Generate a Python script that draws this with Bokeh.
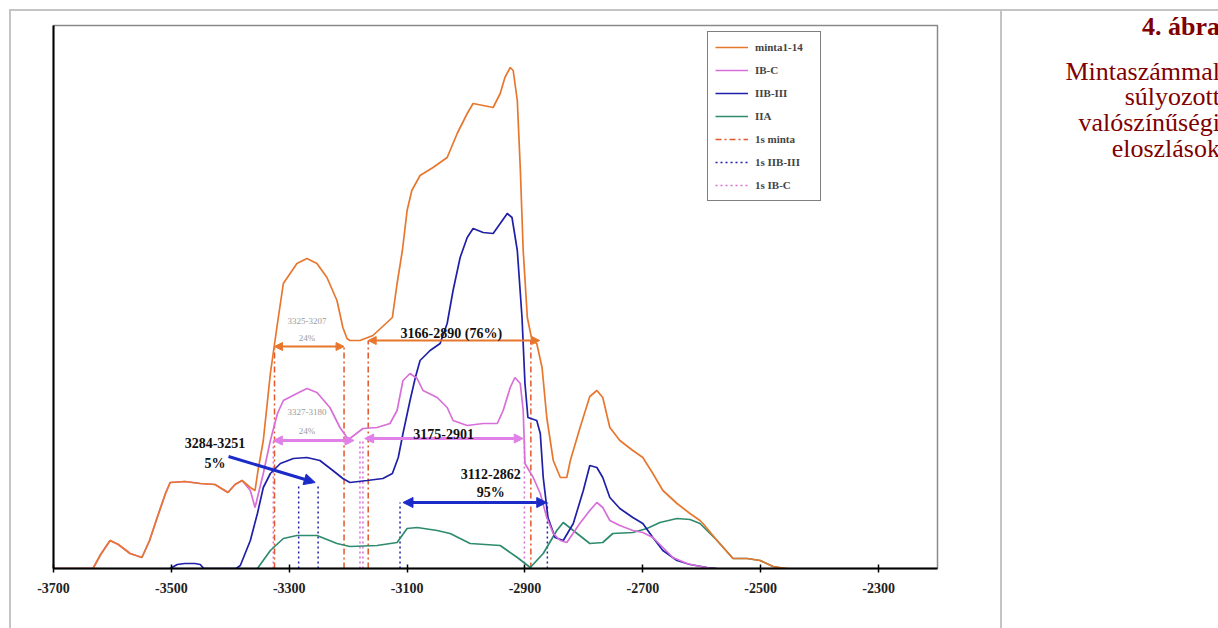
from bokeh.plotting import figure
from bokeh.layouts import row
from bokeh.models import (Range1d, FixedTicker, Legend, LegendItem, Arrow, NormalHead,
                          Label, Div)
from bokeh.embed import file_html
from bokeh.resources import INLINE

# ---------------- data ----------------
tick_values = [-3700, -3500, -3300, -3100, -2900, -2700, -2500, -2300]
tick_labels = ["-3700", "-3500", "-3300", "-3100", "-2900", "-2700", "-2500", "-2300"]

minta_x = [-3700, -3633, -3620, -3604, -3590, -3570, -3550, -3537, -3524, -3510, -3502, -3477,
           -3451, -3426, -3404, -3392, -3380, -3366,
           -3358, -3353, -3344, -3332, -3320, -3310, -3287, -3270, -3253, -3236, -3219, -3209,
           -3202, -3197, -3180, -3158, -3125, -3117, -3108, -3100, -3092, -3078, -3056, -3032,
           -3015, -2998, -2988, -2971, -2954, -2942, -2934, -2925, -2920, -2913, -2908, -2903,
           -2896, -2888, -2880, -2871, -2863, -2852, -2840, -2829, -2823, -2807, -2790, -2778,
           -2768, -2756, -2739, -2717, -2700, -2683, -2666, -2642, -2620, -2603, -2598, -2574,
           -2547, -2523, -2501, -2479, -2455]
minta_y = [0, 0, 14, 28, 24, 15, 11, 28, 51, 75, 86, 87,
           85, 84, 76, 84, 88, 81,
           78, 98, 128, 195, 245, 285, 305, 310, 305, 291, 268, 241,
           230, 228, 228, 233, 251, 285, 318, 358, 378, 393, 401, 411,
           435, 455, 465, 463, 461, 475, 491, 501, 498, 468, 401, 318,
           251, 228, 225, 201, 151, 108, 91, 91, 108, 140, 172, 178,
           171, 141, 128, 118, 111, 95, 78, 65, 55, 48, 45, 28,
           10, 10, 8, 2, 0]

ibc_x = [-3700, -3633, -3620, -3604, -3590, -3570, -3550, -3537, -3524, -3510, -3502, -3477,
         -3451, -3426, -3404, -3392, -3380, -3366,
         -3358, -3344, -3332, -3320, -3310, -3287, -3270, -3253, -3231, -3214, -3202, -3197,
         -3175, -3151, -3129, -3117, -3107, -3095, -3083, -3073, -3049, -3032, -3022, -2998,
         -2971, -2947, -2937, -2925, -2917, -2908, -2903, -2900, -2896, -2886, -2874, -2863,
         -2852, -2840, -2829, -2807, -2790, -2778, -2768, -2756, -2739, -2717, -2700, -2683,
         -2666, -2649, -2625, -2603, -2581]
ibc_y = [0, 0, 14, 28, 24, 15, 11, 28, 51, 75, 86, 87,
         85, 84, 76, 84, 88, 78,
         61, 95, 128, 155, 168, 175, 180, 176, 161, 141, 131, 130,
         140, 141, 145, 158, 188, 195, 190, 178, 171, 161, 148, 143,
         145, 145, 158, 181, 191, 185, 158, 105, 101, 91, 75, 51,
         35, 28, 26, 45, 58, 66, 61, 48, 43, 38, 36, 31,
         21, 11, 5, 2, 0]

iib_x = [-3502, -3490, -3477, -3460, -3451, -3445, -3390, -3383, -3366, -3354, -3344, -3332,
         -3315, -3293, -3270, -3248, -3226, -3209, -3197, -3168, -3141, -3125, -3115, -3107,
         -3095, -3086, -3078, -3061, -3044, -3032, -3022, -3010, -2998, -2988, -2971, -2954,
         -2942, -2930, -2922, -2913, -2905, -2900, -2895, -2880, -2874, -2869, -2861, -2849,
         -2835, -2818, -2801, -2790, -2778, -2768, -2756, -2739, -2717, -2700, -2683, -2666,
         -2642, -2620, -2591, -2575]
iib_y = [0, 4, 5, 5, 4, 0, 0, 3, 28, 55, 81, 95,
         105, 110, 111, 108, 98, 90, 86, 88, 90, 95, 111, 135,
         168, 191, 208, 218, 225, 245, 278, 311, 331, 340, 336, 335,
         345, 355, 351, 318, 251, 185, 151, 148, 135, 91, 51, 31,
         28, 45, 78, 103, 101, 91, 71, 60, 51, 45, 31, 18,
         8, 4, 1, 0]

iia_x = [-3354, -3332, -3310, -3287, -3253, -3219, -3197, -3151, -3117, -3100, -3083, -3049,
         -3027, -2993, -2942, -2913, -2891, -2869, -2846, -2835, -2818, -2790, -2768, -2751,
         -2717, -2693, -2671, -2642, -2620, -2603, -2574, -2547, -2523, -2501, -2479, -2462]
iia_y = [0, 18, 30, 33, 33, 25, 22, 23, 26, 40, 41, 38,
         35, 25, 23, 11, 1, 15, 38, 46, 38, 25, 26, 35,
         36, 40, 46, 50, 49, 45, 28, 10, 10, 8, 2, 0]

# 1-sigma ranges (vertical marker lines) and their heights
sig_minta_x = [-3325, -3207, -3166, -2890]
sig_minta_top = [223, 223, 228, 228]
sig_ibc_x = [-3327, -3180, -3175, -2901]
sig_ibc_top = [130, 130, 130, 130]
sig_iib_x = [-3284, -3251, -3112, -2862]
sig_iib_top = [82, 82, 66, 66]

# double arrows: (x_start, x_end, y)
arrows_minta = [(-3325, -3207, 222), (-3166, -2875, 228)]
arrows_ibc = [(-3327, -3190, 128), (-3172, -2903, 130)]
arrows_iib = [(-3107, -2863, 66)]
pointer_iib = (-3403, 112, -3256, 86)

legend_labels = ["minta1-14", "IB-C", "IIB-III", "IIA", "1s minta", "1s IIB-III", "1s IB-C"]
caption_title = "4. ábra"
caption_lines = ["Mintaszámmal", "súlyozott", "valószínűségi", "eloszlások"]

# ---------------- styles ----------------
C_ORANGE = "#E8772E"
C_PINK = "#D86FD8"
C_BLUE = "#1F1FA8"
C_GREEN = "#2E8B6E"
C_RED = "#E4572A"
C_CAPTION = "#7F0000"
C_TABLE = "#c4c4c4"
SERIF = "Liberation Serif"

p = figure(width=1000, height=628, x_range=Range1d(-3700, -2200), y_range=Range1d(0, 543),
           output_backend="svg", toolbar_location=None,
           min_border_left=53, min_border_right=63, min_border_top=25, min_border_bottom=60)
p.background_fill_color = "white"
p.border_fill_color = None
p.outline_line_color = "#8a8a8a"
p.outline_line_width = 1.5
p.grid.visible = False
# table-cell borders of the document around the chart (left and top edges)
p.styles = {
    "background-color": "white",
    "background-image": f"linear-gradient({C_TABLE}, {C_TABLE}), linear-gradient({C_TABLE}, {C_TABLE})",
    "background-repeat": "no-repeat",
    "background-size": "100% 2px, 2px 100%",
    "background-position": "9px 9px, 9px 9px",
}

xa = p.xaxis[0]
xa.ticker = FixedTicker(ticks=tick_values, minor_ticks=[])
xa.major_label_overrides = {v: t for v, t in zip(tick_values, tick_labels)}
xa.axis_line_color = "black"
xa.axis_line_width = 2
xa.major_tick_in = 4
xa.major_tick_out = 4
xa.major_tick_line_width = 1.5
xa.major_tick_line_color = "black"
xa.minor_tick_line_color = None
xa.major_label_standoff = 10
xa.major_label_text_font = SERIF
xa.major_label_text_font_size = "14px"
xa.major_label_text_font_style = "bold"
xa.major_label_text_color = "#222222"

ya = p.yaxis[0]
ya.ticker = FixedTicker(ticks=[], minor_ticks=[])
ya.axis_line_color = "black"
ya.axis_line_width = 2
ya.major_tick_line_color = None
ya.minor_tick_line_color = None
ya.major_label_text_font_size = "0px"

# sigma marker lines
r_sm = p.segment(x0=sig_minta_x, y0=[0] * len(sig_minta_x), x1=sig_minta_x, y1=sig_minta_top,
                 line_color=C_RED, line_width=1.5, line_dash="6 3 2 3")
r_si = p.segment(x0=sig_iib_x, y0=[0] * len(sig_iib_x), x1=sig_iib_x, y1=sig_iib_top,
                 line_color=C_BLUE, line_width=1.5, line_dash="2 3")
r_sc = p.segment(x0=sig_ibc_x, y0=[0] * len(sig_ibc_x), x1=sig_ibc_x, y1=sig_ibc_top,
                 line_color=C_PINK, line_width=1.5, line_dash="2 3")

# curves
r_iia = p.line(iia_x, iia_y, line_color=C_GREEN, line_width=1.7)
r_iib = p.line(iib_x, iib_y, line_color=C_BLUE, line_width=1.7)
r_ibc = p.line(ibc_x, ibc_y, line_color=C_PINK, line_width=1.7)
r_min = p.line(minta_x, minta_y, line_color=C_ORANGE, line_width=1.7)

# arrows
for xs, xe, yy in arrows_minta:
    p.add_layout(Arrow(x_start=xs, y_start=yy, x_end=xe, y_end=yy, line_color=C_ORANGE, line_width=2,
                       start=NormalHead(size=8, fill_color=C_ORANGE, line_color=C_ORANGE),
                       end=NormalHead(size=8, fill_color=C_ORANGE, line_color=C_ORANGE)))
for xs, xe, yy in arrows_ibc:
    p.add_layout(Arrow(x_start=xs, y_start=yy, x_end=xe, y_end=yy, line_color="#E080E8", line_width=3,
                       start=NormalHead(size=9, fill_color="#E080E8", line_color="#E080E8"),
                       end=NormalHead(size=9, fill_color="#E080E8", line_color="#E080E8")))
for xs, xe, yy in arrows_iib:
    p.add_layout(Arrow(x_start=xs, y_start=yy, x_end=xe, y_end=yy, line_color="#1A2BC8", line_width=3,
                       start=NormalHead(size=10, fill_color="#1A2BC8", line_color="#1A2BC8"),
                       end=NormalHead(size=10, fill_color="#1A2BC8", line_color="#1A2BC8")))
px0, py0, px1, py1 = pointer_iib
p.add_layout(Arrow(x_start=px0, y_start=py0, x_end=px1, y_end=py1, line_color="#1A2BC8", line_width=3,
                   end=NormalHead(size=11, fill_color="#1A2BC8", line_color="#1A2BC8")))

# text annotations in the chart
def note(x, y, text, size="13px", color="#111111", style="bold"):
    p.add_layout(Label(x=x, y=y, text=text, text_align="center", text_baseline="middle",
                       text_font=SERIF, text_font_size=size, text_color=color, text_font_style=style))

note(-3270, 248, "3325-3207", size="9px", color="#9a9a9a", style="normal")
note(-3270, 231, "24%", size="9px", color="#9a9a9a", style="normal")
note(-3025, 235, "3166-2890 (76%)", size="14px")
note(-3270, 157, "3327-3180", size="9px", color="#9a9a9a", style="normal")
note(-3270, 138, "24%", size="9px", color="#9a9a9a", style="normal")
note(-3038, 135, "3175-2901", size="14px")
note(-3426, 126, "3284-3251", size="14px")
note(-3426, 105, "5%", size="14px")
note(-2958, 95, "3112-2862", size="14px")
note(-2958, 76, "95%", size="14px")

# legend
legend = Legend(items=[
    LegendItem(label=legend_labels[0], renderers=[r_min]),
    LegendItem(label=legend_labels[1], renderers=[r_ibc]),
    LegendItem(label=legend_labels[2], renderers=[r_iib]),
    LegendItem(label=legend_labels[3], renderers=[r_iia]),
    LegendItem(label=legend_labels[4], renderers=[r_sm]),
    LegendItem(label=legend_labels[5], renderers=[r_si]),
    LegendItem(label=legend_labels[6], renderers=[r_sc]),
], location=(654, 367), margin=0, padding=7, spacing=7, glyph_width=33, glyph_height=16,
    label_height=16, label_width=58, label_standoff=7, border_line_color="black", border_line_width=1,
    background_fill_color="white", background_fill_alpha=1.0,
    label_text_font=SERIF, label_text_font_size="11px", label_text_font_style="bold")
p.add_layout(legend)

# ---------------- caption cell on the right (document text) ----------------
line_tops = [13.5, 58.7, 84.4, 110.1, 135.8]
parts = [
    f'<div style="position:absolute;left:0;top:9px;width:2px;height:640px;background:{C_TABLE}"></div>',
    f'<div style="position:absolute;left:0;top:9px;width:218px;height:2px;background:{C_TABLE}"></div>',
    f'<div style="position:absolute;right:-2px;top:{line_tops[0]}px;white-space:nowrap;text-align:right;'
    f"font-family:'{SERIF}';font-size:26px;line-height:25px;font-weight:bold;color:{C_CAPTION}\">"
    f'{caption_title}</div>',
]
for t, line in zip(line_tops[1:], caption_lines):
    parts.append(
        f'<div style="position:absolute;right:-2px;top:{t}px;white-space:nowrap;text-align:right;'
        f"font-family:'{SERIF}';font-size:26px;line-height:25px;color:{C_CAPTION}\">{line}</div>")
caption_html = ('<div style="position:relative;width:218px;height:628px;overflow:hidden;background:white">'
                + "".join(parts) + "</div>")
caption = Div(text=caption_html, width=218, height=628, styles={"overflow": "hidden", "margin": "0"})

layout = row(p, caption, spacing=0)
open("out.html", "w").write(file_html(layout, INLINE))
